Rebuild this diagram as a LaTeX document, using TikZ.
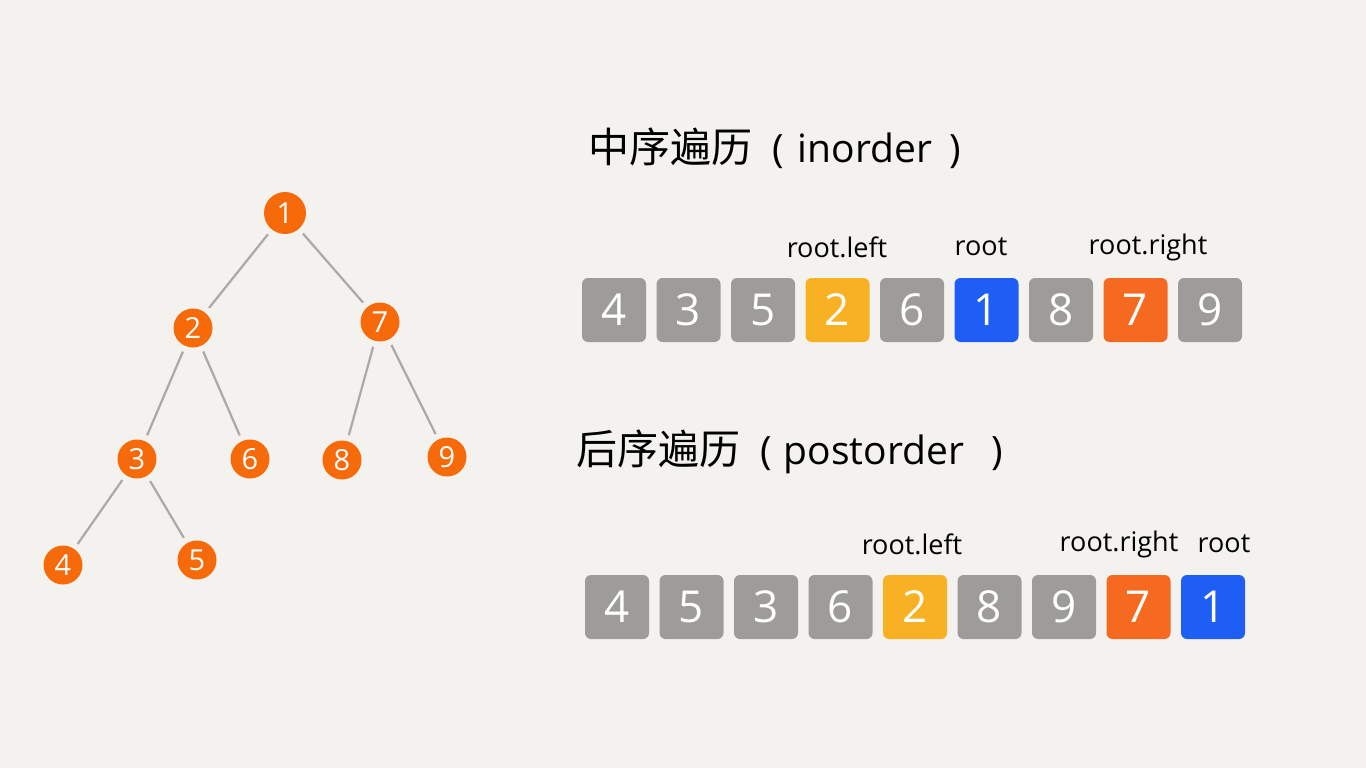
\documentclass[tikz,border=0pt]{standalone}
\usepackage{fontspec}
\setmainfont{Open Sans}
\newfontfamily\cjk{Noto Sans CJK SC}
\definecolor{bg}{HTML}{F4F2EE}
\definecolor{tnode}{HTML}{F76A0A}
\definecolor{edgegray}{HTML}{ABA9A6}
\definecolor{boxgray}{HTML}{9E9C98}
\definecolor{boxyellow}{HTML}{F7B122}
\definecolor{boxblue}{HTML}{1F5EF5}
\definecolor{boxorange}{HTML}{F56A20}
\tikzset{
  tn/.style={circle, fill=tnode, minimum size=39pt, inner sep=0pt, text=white, font=\fontsize{29}{30}\selectfont},
  tedge/.style={draw=edgegray, line width=2.2pt, shorten >=6pt, shorten <=6pt},
  cell/.style={rounded corners=6pt, minimum width=64pt, minimum height=64pt, inner sep=0pt, text=white, font=\fontsize{44}{46}\selectfont},
  gcell/.style={cell, fill=boxgray},
  ycell/.style={cell, fill=boxyellow},
  bcell/.style={cell, fill=boxblue},
  ocell/.style={cell, fill=boxorange},
  lbl/.style={font=\fontsize{27}{28}\selectfont, text=black, inner sep=0pt},
  ttl/.style={font=\fontsize{39}{42}\selectfont, text=black, inner sep=0pt, anchor=west}
}
\begin{document}
\begin{tikzpicture}[x=1pt,y=-1pt]
\useasboundingbox (0,0) rectangle (1366,768);
\fill[bg] (0,0) rectangle (1366,768);
% tree
\node[tn, minimum size=42pt] (t1) at (285,213) {1};
\node[tn] (t2) at (193,328) {2};
\node[tn] (t7) at (380,322) {7};
\node[tn] (t3) at (137,459) {3};
\node[tn] (t6) at (250,459) {6};
\node[tn] (t8) at (342,460) {8};
\node[tn] (t9) at (447,457) {9};
\node[tn] (t4) at (63,565) {4};
\node[tn] (t5) at (197,560) {5};
\draw[tedge] (t1) -- (t2);
\draw[tedge] (t1) -- (t7);
\draw[tedge] (t2) -- (t3);
\draw[tedge] (t2) -- (t6);
\draw[tedge] (t7) -- (t8);
\draw[tedge] (t7) -- (t9);
\draw[tedge] (t3) -- (t4);
\draw[tedge] (t3) -- (t5);
% titles
\node[ttl] (title1) at (588,148) {{\cjk\fontsize{41}{44}\selectfont 中序遍历}\hspace{20pt}(\hspace{14pt}inorder\hspace{18pt})};
\node[ttl] (title2) at (576,452) {{\cjk\fontsize{41}{44}\selectfont 后序遍历}\hspace{20pt}(\hspace{12pt}postorder\hspace{28pt})};
% inorder row
\node[gcell] (a1) at (614,310) {4};
\node[gcell] (a2) at (688.5,310) {3};
\node[gcell] (a3) at (763,310) {5};
\node[ycell] (a4) at (837.5,310) {2};
\node[gcell] (a5) at (912,310) {6};
\node[bcell] (a6) at (986.5,310) {1};
\node[gcell] (a7) at (1061,310) {8};
\node[ocell] (a8) at (1135.5,310) {7};
\node[gcell] (a9) at (1210,310) {9};
\node[lbl] (la1) at (837,247) {root.left};
\node[lbl] (la2) at (981,247) {root};
\node[lbl] (la3) at (1148,247) {root.right};
% postorder row
\node[gcell] (b1) at (617,607) {4};
\node[gcell] (b2) at (691.5,607) {5};
\node[gcell] (b3) at (766,607) {3};
\node[gcell] (b4) at (840.5,607) {6};
\node[ycell] (b5) at (915,607) {2};
\node[gcell] (b6) at (989.5,607) {8};
\node[gcell] (b7) at (1064,607) {9};
\node[ocell] (b8) at (1138.5,607) {7};
\node[bcell] (b9) at (1213,607) {1};
\node[lbl] (lb1) at (912,544) {root.left};
\node[lbl] (lb2) at (1119,544) {root.right};
\node[lbl] (lb3) at (1224,544) {root};
\end{tikzpicture}
\end{document}
